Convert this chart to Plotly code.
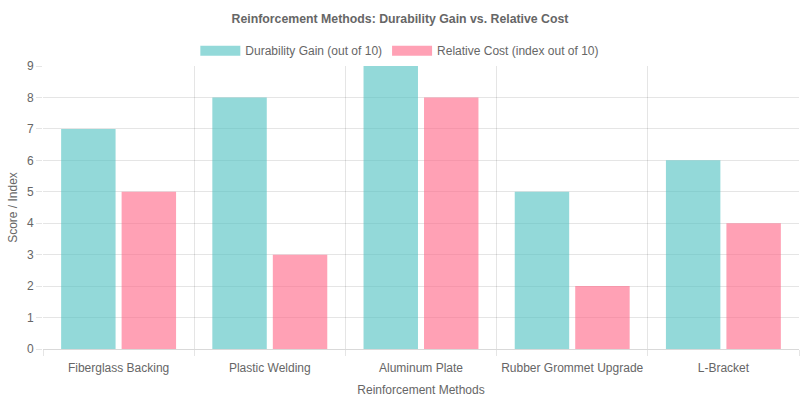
"""Grouped bar chart: durability gain vs. relative cost of reinforcement methods."""

import plotly.graph_objects as go

METHODS = [
    "Fiberglass Backing",
    "Plastic Welding",
    "Aluminum Plate",
    "Rubber Grommet Upgrade",
    "L-Bracket",
]
DURABILITY_GAIN = [7, 8, 9, 5, 6]
RELATIVE_COST = [5, 3, 8, 2, 4]
Y_TICKS = [0, 1, 2, 3, 4, 5, 6, 7, 8, 9]

TEAL = "rgba(75,192,192,0.6)"
PINK = "rgba(255,99,132,0.6)"
GRID = "rgba(0,0,0,0.1)"
TEXT = "#666666"
FONT = "Liberation Sans, Arial, Helvetica, sans-serif"


def build_chart():
    positions = list(range(len(METHODS)))
    boundaries = [p - 0.5 for p in positions] + [positions[-1] + 0.5]

    fig = go.Figure()
    series = [
        ("Durability Gain (out of 10)", DURABILITY_GAIN, TEAL),
        ("Relative Cost (index out of 10)", RELATIVE_COST, PINK),
    ]
    for name, values, color in series:
        fig.add_bar(
            x=positions, y=values, name=name, marker_color=color,
            marker_line_width=0, showlegend=False,
        )
    # legend entries drawn as wide boxes, like the original
    for name, _, color in series:
        fig.add_scatter(
            x=[None], y=[None], mode="lines", name=name,
            line={"color": color, "width": 12}, showlegend=True,
        )

    fig.update_layout(
        barmode="group",
        bargap=0.2,
        bargroupgap=0.1,
        width=800,
        height=400,
        autosize=False,
        plot_bgcolor="white",
        paper_bgcolor="white",
        font={"family": FONT, "size": 12, "color": TEXT},
        margin={"l": 43, "r": 1, "t": 66, "b": 51},
        title={
            "text": "<b>Reinforcement Methods: Durability Gain vs. Relative Cost</b>",
            "x": 0.5, "xanchor": "center",
            "y": 1 - 19 / 400, "yanchor": "middle", "yref": "container",
            "font": {"size": 12.3, "color": TEXT},
        },
        legend={
            "orientation": "h", "x": 0.472, "xanchor": "center",
            "y": 1.054, "yanchor": "middle",
            "font": {"size": 12, "color": TEXT},
            "itemwidth": 40,
        },
    )
    fig.update_xaxes(
        range=[boundaries[0], boundaries[-1]],
        tickmode="array",
        tickvals=positions,
        ticktext=METHODS,
        ticks="outside",
        ticklen=8,
        tickcolor="rgba(0,0,0,0)",
        showgrid=False,
        zeroline=False,
        showline=True,
        linecolor="rgba(0,0,0,0.15)",
        minor={
            "tickmode": "array",
            "tickvals": boundaries,
            "showgrid": True,
            "gridcolor": GRID,
            "ticks": "outside",
            "ticklen": 6,
            "tickcolor": GRID,
        },
        title={"text": "Reinforcement Methods", "standoff": 11,
               "font": {"size": 12, "color": TEXT}},
    )
    fig.update_yaxes(
        range=[0, 9],
        tickmode="array",
        tickvals=Y_TICKS,
        ticks="outside",
        ticklen=6,
        tickcolor=GRID,
        showgrid=True,
        gridcolor=GRID,
        zeroline=False,
        showline=False,
        title={"text": "Score / Index", "standoff": 6,
               "font": {"size": 12, "color": TEXT}},
    )
    return fig


if __name__ == "__main__":
    fig = build_chart()
    # drop the page's default body margin so the 800x400 figure fills the window
    fig.write_html(
        "out.html",
        config={"displayModeBar": False},
        post_script="document.body.style.margin = '0';",
    )
